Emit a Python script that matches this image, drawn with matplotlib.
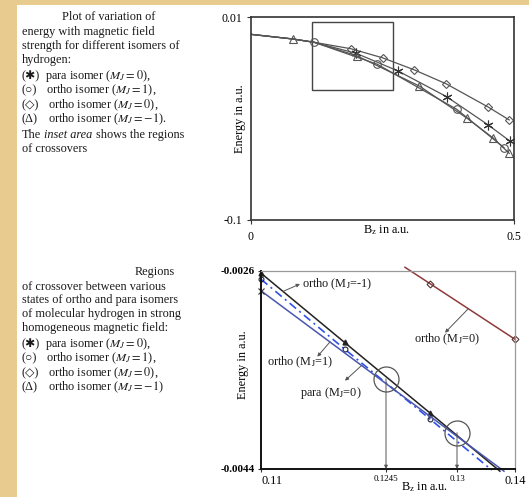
import numpy as np
import matplotlib.pyplot as plt
from matplotlib.patches import Rectangle

plt.rcParams['font.family'] = ['Liberation Serif', 'DejaVu Sans']
plt.rcParams['mathtext.fontset'] = 'stix'
plt.rcParams['axes.unicode_minus'] = False

# --- full field sweep (top panel) ---
trunk_b = [0.0, 0.079, 0.12]
trunk_e = [0.0006, -0.0019, -0.0037]

para_b = [0.20, 0.28, 0.372, 0.451, 0.492]
para_e = [-0.0097, -0.0193, -0.0332, -0.0485, -0.0572]
orp1_b = [0.24, 0.391, 0.481]
orp1_e = [-0.0156, -0.0400, -0.0608]
or0_b = [0.19, 0.25, 0.31, 0.371, 0.451, 0.491]
or0_e = [-0.0072, -0.0121, -0.0186, -0.0262, -0.0388, -0.0458]
orm1_b = [0.201, 0.32, 0.41, 0.461, 0.491]
orm1_e = [-0.0110, -0.0274, -0.0447, -0.0557, -0.0639]

inset_b = (0.116, 0.270)
inset_e = (-0.0296, 0.0073)

top_xticks = [0, 0.5]
top_xlabels = ['0', '0.5']
top_yticks = [-0.1, 0.01]
top_ylabels = ['-0.1', '0.01']

# --- zoom on the crossover region (bottom panel) ---
z_orm1_b = [0.11, 0.1197, 0.1279, 0.1374]
z_orm1_e = [-0.00262, -0.00325, -0.00389, -0.00442]
z_orp1_b = [0.11, 0.1197, 0.1279, 0.1360]
z_orp1_e = [-0.002675, -0.00331, -0.003945, -0.00441]
z_para_b = [0.11, 0.1381]
z_para_e = [-0.00278, -0.00442]
z_or0_b = [0.12597, 0.12791, 0.14]
z_or0_e = [-0.002566, -0.002715, -0.003221]

cross_b = [0.1245, 0.13]
cross_e = [-0.00358, -0.00407]

bot_xticks = [0.11, 0.1245, 0.13, 0.14]
bot_xlabels = ['0.11', '0.1245', '0.13', '0.14']
bot_yticks = [-0.0044, -0.0026]
bot_ylabels = ['-0.0044', '-0.0026']

# the B axis of the zoom is drawn stretched between the marked fields
knot_b = [0.11, 0.1245, 0.13, 0.14]
knot_u = [0.0, 125.0, 196.0, 254.0]

def fwd(x):
    return np.interp(x, knot_b, knot_u)

def inv(u):
    return np.interp(u, knot_u, knot_b)

W, H = 529, 497
fig = plt.figure(figsize=(W / 100, H / 100), dpi=100)
fig.patch.set_facecolor('#e8cb8f')
fig.patches.append(Rectangle((17 / W, 0), 1 - 17 / W, 1 - 5 / H, transform=fig.transFigure,
                             facecolor='white', edgecolor='none', zorder=-1))

def ftext(x, y, s, **kw):
    kw.setdefault('fontsize', 8.8)
    kw.setdefault('color', '#1a1a1a')
    fig.text(x / W, 1 - y / H, s, va='center', ha=kw.pop('ha', 'left'), **kw)

# left hand captions
sym_lines = [('(\u2731)', 'para isomer ($M_J = 0$),', 45),
             ('(\u25cb)', 'ortho isomer ($M_J = 1$),', 46.5),
             ('(\u25c7)', 'ortho isomer ($M_J = 0$),', 47.5)]

ftext(62, 17, 'Plot of variation of')
ftext(22, 32, 'energy with magnetic field')
ftext(22, 46, 'strength for different isomers of')
ftext(22, 59.5, 'hydrogen:')
for (sym, rest, x), y in zip(sym_lines, [76, 90.5, 105.5]):
    ftext(22, y, sym)
    ftext(x, y, rest)
ftext(22, 119.5, '(\u0394)')
ftext(47.5, 119.5, 'ortho isomer ($M_J = -1$).')
ftext(22, 135, 'The')
ftext(44, 135, 'inset area', style='italic')
ftext(96, 135, 'shows the regions')
ftext(22, 148.5, 'of crossovers')

ftext(135, 272, 'Regions')
ftext(22, 286.5, 'of crossover between various')
ftext(22, 300.5, 'states of ortho and para isomers')
ftext(22, 314.5, 'of molecular hydrogen in strong')
ftext(22, 328.5, 'homogeneous magnetic field:')
for (sym, rest, x), y in zip(sym_lines, [344, 358.5, 373]):
    ftext(22, y, sym)
    ftext(x, y, rest)
ftext(22, 387.5, '(\u0394)')
ftext(47.5, 387.5, 'ortho isomer ($M_J = -1$)')

# top panel
ax1 = fig.add_axes([251 / W, 1 - 220 / H, 263 / W, 203 / H])
ax1.set_xlim(0, 0.5)
ax1.set_ylim(-0.1, 0.01)
gray = '#555555'
common = dict(color=gray, lw=0.9, mfc='none', mec=gray, mew=0.8, ms=5.5)
ax1.plot(trunk_b + or0_b, trunk_e + or0_e, marker='D', markevery=list(range(3, 3 + len(or0_b))),
         **{**common, 'ms': 4.5})
ax1.plot(trunk_b + para_b, trunk_e + para_e, marker=(6, 2, 0), markevery=list(range(3, 3 + len(para_b))),
         **{**common, 'mec': '#333', 'ms': 7})
ax1.plot(trunk_b + orp1_b, trunk_e + orp1_e, marker='o',
         markevery=list(range(2, 3 + len(orp1_b))), **common)
ax1.plot(trunk_b + orm1_b, trunk_e + orm1_e, marker='^',
         markevery=[1] + list(range(3, 3 + len(orm1_b))), **{**common, 'ms': 6})
ax1.add_patch(Rectangle((inset_b[0], inset_e[0]), inset_b[1] - inset_b[0], inset_e[1] - inset_e[0],
                        fill=False, ec='#444', lw=1.0))
ax1.set_xticks(top_xticks, top_xlabels)
ax1.set_yticks(top_yticks, top_ylabels)
ax1.tick_params(length=3, width=0.8, color='#333', labelsize=8.5, pad=3)
ax1.tick_params(axis='x', pad=5)
for s in ax1.spines.values():
    s.set_color('#333')
    s.set_linewidth(1.2)
ax1.text(0.517, -0.05, 'B$_\\mathrm{z}$ in a.u.', transform=ax1.transAxes, ha='center', va='center', fontsize=8.8)
ax1.text(-0.042, 0.5, 'Energy in a.u.', transform=ax1.transAxes, rotation=90, ha='center', va='center',
         fontsize=8.8)

# bottom panel
ax2 = fig.add_axes([261 / W, 1 - 469 / H, 254 / W, 198 / H])
ax2.set_xscale('function', functions=(fwd, inv))
ax2.set_xlim(0.11, 0.14)
ax2.set_ylim(-0.0044, -0.0026)

ax2.plot(z_orm1_b, z_orm1_e, color='#222', lw=1.1, marker='^', ms=3.5, mfc='#222', mec='#222',
         markevery=[0, 1, 2], clip_on=False)
ax2.plot(z_orp1_b, z_orp1_e, color='#3050e8', lw=1.2, ls=(0, (5, 2.5, 1.2, 2.5)), marker='o', ms=3.5,
         mfc='none', mec='#223', mew=0.8, markevery=[0, 1, 2], clip_on=False)
ax2.plot(z_para_b, z_para_e, color='#4a56b0', lw=1.1, marker='x', ms=4, mec='#333', mew=0.8,
         markevery=[0], clip_on=False)
ax2.plot(z_or0_b, z_or0_e, color='#8e3b3b', lw=1.1, marker='D', ms=3.5, mfc='none', mec='#553333',
         mew=0.8, markevery=[1, 2], clip_on=False)

ax2.plot(cross_b, cross_e, ls='none', marker='o', ms=18, mfc='none', mec='#555', mew=0.9)

arrow_kw = dict(arrowstyle='-|>', color='#555', lw=0.7, mutation_scale=5, shrinkA=0, shrinkB=0)
for b, e in zip(cross_b, cross_e):
    ax2.annotate('', xy=(b, -0.0044), xytext=(b, e), arrowprops=arrow_kw)

# labels with leader arrows: (text x, text y in axes fraction), line point, arrow head
labels = [
    ('ortho (M$_\\mathrm{J}$=-1)', (0.163, 0.934), (0.11255, -0.002786), (0.11452, -0.002718)),
    ('ortho (M$_\\mathrm{J}$=0)', (0.604, 0.655), (0.13195, -0.002943), (0.12907, -0.003161)),
    ('ortho (M$_\\mathrm{J}$=1)', (0.022, 0.537), (0.11800, -0.003245), (0.11653, -0.003379)),
    ('para (M$_\\mathrm{J}$=0)', (0.154, 0.385), (0.12168, -0.003458), (0.11974, -0.003597)),
]
for txt, pos, tail, head in labels:
    ax2.text(pos[0], pos[1], txt, transform=ax2.transAxes, ha='left', va='center', fontsize=8.8,
             color='#1a1a1a', bbox=dict(fc='white', ec='none', pad=0.3))
    ax2.annotate('', xy=head, xytext=tail, arrowprops=arrow_kw)

ax2.set_xticks(bot_xticks, bot_xlabels)
ax2.set_yticks(bot_yticks, bot_ylabels)
ax2.xaxis.set_minor_locator(plt.NullLocator())
ax2.tick_params(length=2.5, width=0.8, color='#333', pad=2)
ax2.tick_params(axis='y', labelsize=8)
for lab in ax2.get_yticklabels():
    lab.set_fontweight('bold')
xl = ax2.get_xticklabels()
for lab, fs in zip(xl, [8.8, 6.5, 6.5, 8.8]):
    lab.set_fontsize(fs)
xl[0].set_horizontalalignment('left')
ax2.spines['left'].set_color('#111')
ax2.spines['left'].set_linewidth(1.4)
ax2.spines['bottom'].set_color('#111')
ax2.spines['bottom'].set_linewidth(1.4)
ax2.spines['top'].set_color('#999')
ax2.spines['top'].set_linewidth(0.9)
ax2.spines['right'].set_color('#999')
ax2.spines['right'].set_linewidth(0.9)
ax2.text(0.646, -0.091, 'B$_\\mathrm{z}$ in a.u.', transform=ax2.transAxes, ha='center', va='center',
         fontsize=8.8)
ax2.text(-0.07, 0.525, 'Energy in a.u.', transform=ax2.transAxes, rotation=90, ha='center', va='center',
         fontsize=8.8)

fig.savefig('out.png', dpi=100, facecolor=fig.get_facecolor())
